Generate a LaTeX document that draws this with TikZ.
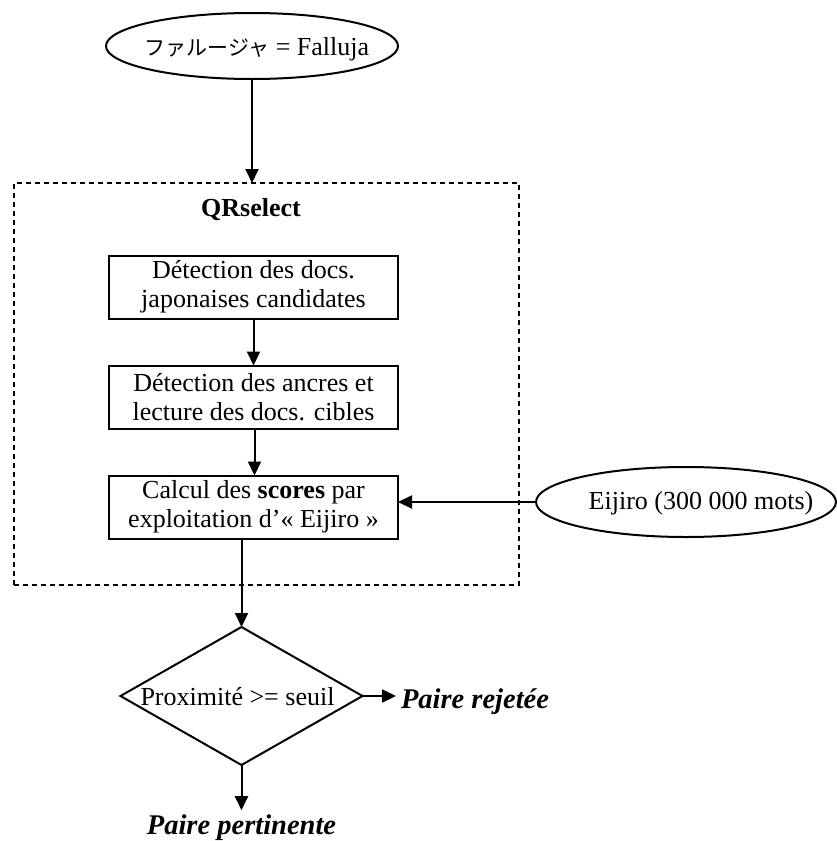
\documentclass[tikz,border=0pt]{standalone}
\usepackage{fontspec}
\setmainfont{Liberation Serif}
\newfontfamily\jpfont{Noto Sans CJK JP}
\usetikzlibrary{shapes.geometric,arrows.meta}
\begin{document}
\begin{tikzpicture}[x=1pt,y=-1pt,
  every node/.style={font=\fontsize{26}{29}\selectfont, outer sep=0pt},
  proc/.style={draw, line width=2pt, minimum width=289pt, minimum height=63pt, inner sep=0pt, align=center},
  oval/.style={draw, ellipse, line width=2pt, inner sep=0pt},
  arr/.style={line width=2pt, -{Triangle[length=14pt,width=13pt]}},
  txt/.style={inner sep=0pt},
  res/.style={inner sep=0pt, font=\fontsize{28.5}{30}\selectfont\bfseries\itshape},
]
\useasboundingbox (0,0) rectangle (837,841);
% input ellipse
\node[oval, minimum width=292pt, minimum height=66pt] (top) at (252,46) {};
\node[txt, anchor=base] (toptext) at (257,55) {{\jpfont\fontsize{21}{24}\selectfont ファルージャ} = Falluja};
% QRselect dashed box
\node[draw, line width=2.6pt, dash pattern=on 5pt off 4pt, minimum width=505pt, minimum height=402pt] (qr) at (266.5,384) {};
\node[txt, font=\fontsize{26}{29}\selectfont\bfseries] (qrlabel) at (251,210) {QRselect};
% process boxes
\node[proc] (b1) at (253.5,287) {Détection des docs.\\japonaises candidates};
\node[proc] (b2) at (253.5,397) {Détection des ancres et\\lecture des docs. cibles};
\node[proc] (b3) at (253.5,507) {Calcul des \textbf{scores} par\\exploitation d’«~Eijiro~»};
% Eijiro ellipse
\node[oval, minimum width=300pt, minimum height=70pt] (eij) at (686,502) {};
\node[txt] (eijtext) at (701,503) {Eijiro (300 000 mots)};
% decision diamond
\node[draw, diamond, line width=2pt, inner sep=0pt, minimum width=242pt, minimum height=138pt] (dia) at (241.5,696) {};
\node[txt] (diatext) at (237.5,697) {Proximité >= seuil};
% results
\node[res, anchor=base west] (rej) at (401,708) {Paire rejetée};
\node[res, anchor=base] (perti) at (241.5,834) {Paire pertinente};
% connectors
\draw[arr] (top.south) -- (top.south |- qr.north);
\draw[arr] (b1.south) -- (b2.north);
\draw[arr] ([xshift=1pt]b2.south) -- ([xshift=1pt]b3.north);
\draw[arr] (eij.west) -- (eij.west -| b3.east);
\draw[arr] (b3.south -| dia.north) -- (dia.north);
\draw[arr] (dia.east) -- ([xshift=-5pt]dia.east -| rej.west);
\draw[arr] (dia.south) -- ([yshift=4pt]dia.south |- perti.north);
\end{tikzpicture}
\end{document}
